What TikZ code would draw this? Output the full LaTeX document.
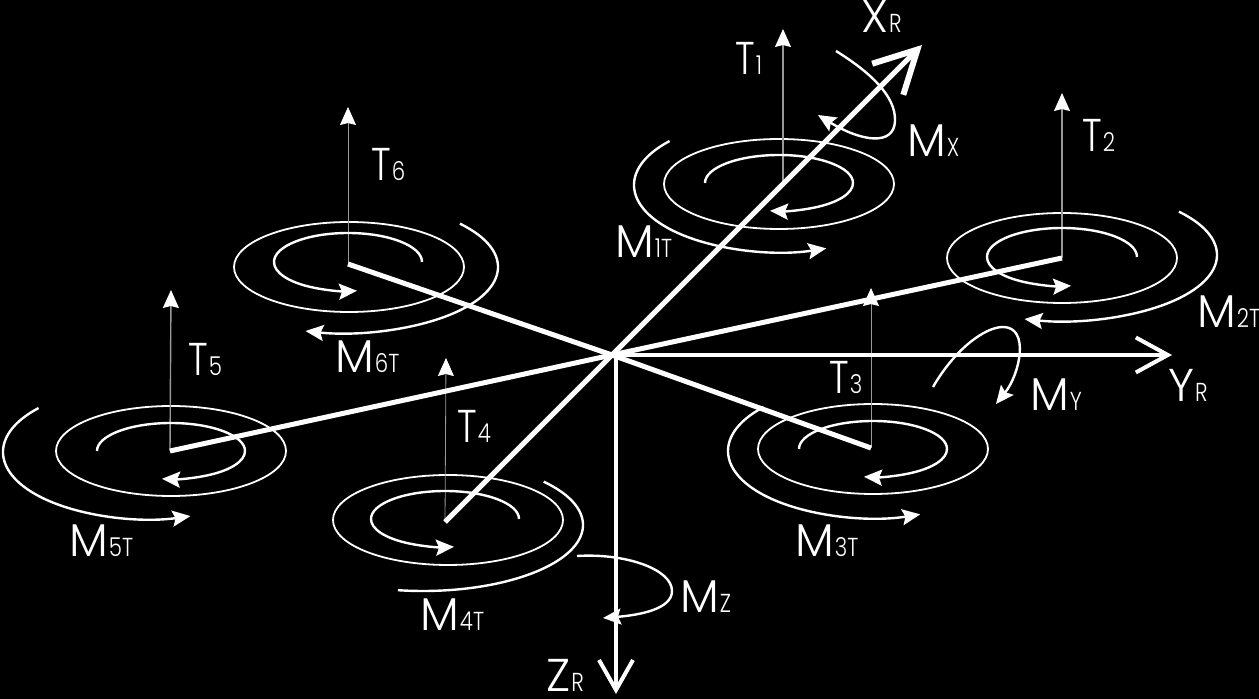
\documentclass[tikz,border=0pt]{standalone}
\usepackage{fontspec}
\usetikzlibrary{arrows.meta}
\newfontfamily\labfont[UprightFont=* Light]{Poppins}
\newfontfamily\narfont[UprightFont=* Light, FakeStretch=0.82]{Poppins}
\newcommand{\lab}[2]{\labfont\fontsize{46}{46}\selectfont #1\narfont\fontsize{26}{26}\selectfont\hspace{1pt}#2}
\newcommand{\labt}[2]{\narfont\fontsize{46}{46}\selectfont #1\fontsize{26}{26}\selectfont\hspace{1pt}#2}
\begin{document}
\begin{tikzpicture}[x=1pt, y=1pt,
    lab/.style={text=white, anchor=base west, inner sep=0pt},
    disc/.style={draw=white, line width=1.8pt},
    spin/.style={draw=white, line width=2.4pt, -{Stealth[length=18pt,width=16pt,inset=3pt]}},
    plain/.style={draw=white, line width=2.4pt},
    thrust/.style={draw=white!60!black, line width=1.4pt, -{Stealth[length=18pt,width=16pt,inset=2pt,color=white]}},
    arm/.style={draw=white, line width=5pt},
    axis/.style={draw=white, line width=#1}]
    \useasboundingbox (0,0) rectangle (1259,699);
    \fill[black] (0,0) rectangle (1259,699);

    \coordinate (orig) at (612,344);
    \coordinate (zorig) at (616,344);
    \coordinate (hubone) at (783,515);
    \coordinate (hubtwo) at (1062,441);
    \coordinate (hubthree) at (871,251);
    \coordinate (hubfour) at (445,177);
    \coordinate (hubfive) at (170,248);
    \coordinate (hubsix) at (348,435);
    \coordinate (tipone) at (783,670);
    \coordinate (tiptwo) at (1062,606);
    \coordinate (tipthree) at (871,411);
    \coordinate (tipfour) at (446,341);
    \coordinate (tipfive) at (171,409);
    \coordinate (tipsix) at (348,592);
    \coordinate (xtip) at (922,654);
    \coordinate (ytip) at (1172,344);
    \coordinate (ztip) at (616,5);

    % discs
    \foreach \x/\y in {779/515, 1062/441, 873/250, 448/179, 171/248, 349/432}
      \draw[disc] (\x,\y) ellipse [x radius=115, y radius=45];

    % thrust
    \draw[thrust] (hubone) -- (tipone);
    \draw[thrust] (hubtwo) -- (tiptwo);
    \draw[thrust, line width=0.8pt] (hubthree) -- (tipthree);
    \draw[thrust, line width=0.8pt] (hubfour) -- (tipfour);
    \draw[thrust] (hubfive) -- (tipfive);
    \draw[thrust, line width=0.8pt] (hubsix) -- (tipsix);

    % inner arcs
    \draw[spin] (779,516) ++(180:74 and 28) arc[start angle=180, end angle=-97, x radius=74, y radius=28];
    \draw[spin] (873,250) ++(180:74 and 28) arc[start angle=180, end angle=-97, x radius=74, y radius=28];
    \draw[spin] (171,248) ++(180:74 and 28) arc[start angle=180, end angle=-97, x radius=74, y radius=28];
    \draw[spin] (1062,442) ++(0:75 and 29) arc[start angle=0, end angle=277, x radius=75, y radius=29];
    \draw[spin] (445,180) ++(0:74 and 28) arc[start angle=0, end angle=277, x radius=74, y radius=28];
    \draw[spin] (348,437) ++(0:74 and 29) arc[start angle=0, end angle=277, x radius=74, y radius=29];

    % outer arcs
    \draw[spin] (779,514) ++(139:145 and 67) arc[start angle=139, end angle=289, x radius=145, y radius=67];
    \draw[spin] (873,248) ++(139:145 and 67) arc[start angle=139, end angle=289, x radius=145, y radius=67];
    \draw[spin] (148,247) ++(139:145 and 67) arc[start angle=139, end angle=287, x radius=145, y radius=67];
    \draw[spin] (1062,444) ++(41:155 and 66) arc[start angle=41, end angle=-104, x radius=155, y radius=66];
    \draw[spin] (343,432) ++(41:155 and 66) arc[start angle=41, end angle=-104, x radius=155, y radius=66];
    \draw[plain] (423,174) ++(41:160 and 66) arc[start angle=41, end angle=-99, x radius=160, y radius=66];

    % arms and axes
    \draw[arm] (orig) -- (hubtwo);
    \draw[arm] (orig) -- (hubthree);
    \draw[arm] (orig) -- (hubfive);
    \draw[arm] (orig) -- (hubsix);
    \draw[axis=5pt, -{Straight Barb[length=42pt,width=44pt,line width=6pt]}] (hubfour) -- (xtip);
    \draw[axis=3.5pt, -{Straight Barb[length=32pt,width=35pt,line width=4pt]}] (orig) -- (ytip);
    \draw[axis=4pt, -{Straight Barb[length=30pt,width=34pt,line width=4pt]}] (zorig) -- (ztip);

    % moments
    \draw[spin] (836,648) .. controls (868,628) and (896,604) .. (895,578) .. controls (894,553) and (862,557) .. (818,584);
    \draw[spin] (933,312) .. controls (955,350) and (985,372) .. (1003,372) .. controls (1030,372) and (1020,325) .. (996,295);
    \draw[spin] (577,143) .. controls (625,146) and (672,130) .. (672,108) .. controls (672,90) and (640,84) .. (603,81);

    % labels
    \node[lab] (tone) at (735,624) {\labt{T}{1}};
    \node[lab] (ttwo) at (1082,547) {\labt{T}{2}};
    \node[lab] (tthree) at (829,305) {\labt{T}{3}};
    \node[lab] (tfour) at (457,256) {\labt{T}{4}};
    \node[lab] (tfive) at (188,323) {\labt{T}{5}};
    \node[lab] (tsix) at (371,518) {\labt{T}{6}};
    \node[lab] (mone) at (615,441) {\lab{M}{1T}};
    \node[lab] (mtwo) at (1197,371) {\lab{M}{2T}};
    \node[lab] (mthree) at (795,142) {\lab{M}{3T}};
    \node[lab] (mfour) at (420,68) {\lab{M}{4T}};
    \node[lab] (mfive) at (69,142) {\lab{M}{5T}};
    \node[lab] (msix) at (335,326) {\lab{M}{6T}};
    \node[lab] (mx) at (907,542) {\lab{M}{X}};
    \node[lab] (my) at (1030,288) {\lab{M}{Y}};
    \node[lab] (mz) at (680,86) {\lab{M}{Z}};
    \node[lab] (xr) at (861,666) {\lab{X}{R}};
    \node[lab] (yr) at (1168,297) {\lab{Y}{R}};
    \node[lab] (zr) at (546,7) {\lab{Z}{R}};
\end{tikzpicture}
\end{document}
